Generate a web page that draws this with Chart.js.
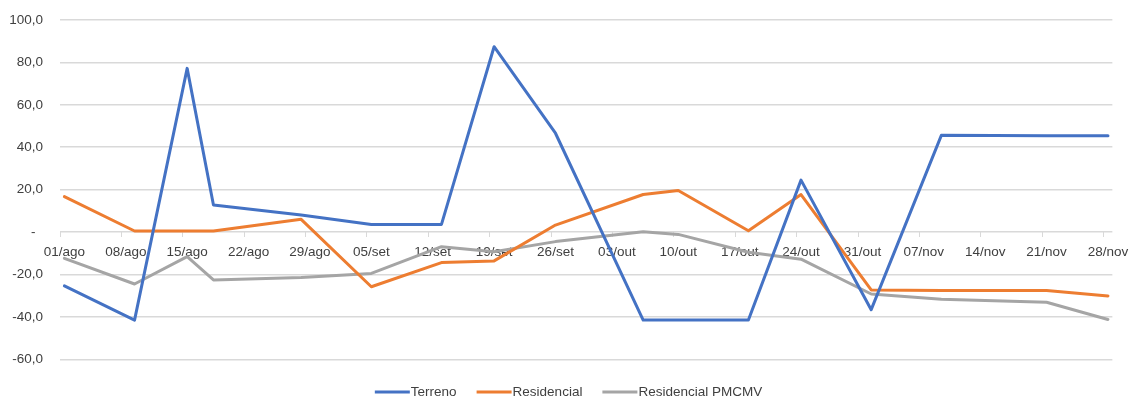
<!DOCTYPE html>
<html lang="pt-BR">
<head>
<meta charset="utf-8">
<title>Variação semanal – Terreno, Residencial e Residencial PMCMV</title>
<script src="https://cdn.jsdelivr.net/npm/chart.js@4.4.1/dist/chart.umd.min.js"></script>
<style>
  html, body { margin: 0; padding: 0; background: #ffffff; }
  #wrap { width: 1131px; height: 397px; position: relative; }
</style>
</head>
<body>
<div id="wrap"><canvas id="grafico"></canvas></div>
<script>
// Datas de referência de cada observação (dia/mês abreviado)
const datas = ['01/ago', '09/ago', '15/ago', '18/ago', '28/ago', '05/set', '13/set', '19/set', '26/set',
               '06/out', '10/out', '18/out', '24/out', '01/nov', '09/nov', '21/nov', '28/nov'];

// Variação (%) por segmento
const terreno       = [-25.4, -41.5, 77.2, 12.8, 8.0, 3.6, 3.6, 87.4, 46.6, -41.5, -41.5, -41.5, 24.5, -36.6, 45.6, 45.4, 45.4];
const residencial   = [16.7, 0.5, 0.5, 0.5, 6.0, -25.8, -14.4, -13.6, 3.3, 17.7, 19.6, 0.6, 17.7, -27.3, -27.5, -27.6, -30.1];
const residPmcmv    = [-12.4, -24.5, -11.6, -22.6, -21.4, -19.5, -6.9, -9.3, -4.5, 0.2, -1.1, -9.5, -12.8, -29.2, -31.7, -33.1, -41.2];

// Rótulos semanais do eixo horizontal
const rotulosSemana = ['01/ago', '08/ago', '15/ago', '22/ago', '29/ago', '05/set', '12/set', '19/set', '26/set',
                       '03/out', '10/out', '17/out', '24/out', '31/out', '07/nov', '14/nov', '21/nov', '28/nov'];

// Rótulos do eixo vertical
const valoresEixoY = [-60, -40, -20, 0, 20, 40, 60, 80, 100];

// Dias decorridos desde 01/ago para cada "dd/mmm"
const inicioMes = { ago: 0, set: 31, out: 61, nov: 92 };
function diaDoPeriodo(rotulo) {
  const [dia, mes] = rotulo.split('/');
  return inicioMes[mes] + Number(dia) - 1;
}

const FONTE = "'Liberation Sans', Arial, sans-serif";
const TAM_FONTE = 13.5;
const COR_TEXTO = '#404040';
const COR_GRADE = '#d9d9d9';

function serie(valores) {
  return valores.map((v, i) => ({ x: diaDoPeriodo(datas[i]), y: v }));
}

function formatoNumero(v) {
  if (v === 0) return '-\u2007';
  return v.toFixed(1).replace('.', ',');
}

const estiloLinha = {
  borderWidth: 3,
  pointRadius: 0,
  pointHoverRadius: 0,
  tension: 0,
  fill: false,
  borderJoinStyle: 'round',
  borderCapStyle: 'round'
};

// Legenda horizontal centralizada no rodapé: traço da série seguido do nome
const legendaRodape = {
  id: 'legendaRodape',
  afterDraw(grafico) {
    const ctx = grafico.ctx;
    const traco = 35, folga = 1, espaco = 20, yCentro = 392;
    ctx.save();
    ctx.font = `${TAM_FONTE}px ${FONTE}`;
    ctx.textBaseline = 'middle';
    ctx.textAlign = 'left';
    const itens = grafico.data.datasets.map(ds => ({
      texto: ds.label, cor: ds.borderColor, largura: ctx.measureText(ds.label).width
    }));
    const total = itens.reduce((s, it) => s + traco + folga + it.largura, 0) + espaco * (itens.length - 1);
    let x = grafico.width / 2 + 3 - total / 2;
    itens.forEach(it => {
      ctx.strokeStyle = it.cor;
      ctx.lineWidth = 3;
      ctx.lineCap = 'butt';
      ctx.beginPath();
      ctx.moveTo(x, yCentro);
      ctx.lineTo(x + traco, yCentro);
      ctx.stroke();
      x += traco + folga;
      ctx.fillStyle = COR_TEXTO;
      ctx.fillText(it.texto, x, yCentro + 0.5);
      x += it.largura + espaco;
    });
    ctx.restore();
  }
};

new Chart(document.getElementById('grafico'), {
  type: 'line',
  data: {
    datasets: [
      Object.assign({ label: 'Terreno', data: serie(terreno), borderColor: '#4472C4', backgroundColor: '#4472C4' }, estiloLinha),
      Object.assign({ label: 'Residencial', data: serie(residencial), borderColor: '#ED7D31', backgroundColor: '#ED7D31' }, estiloLinha),
      Object.assign({ label: 'Residencial PMCMV', data: serie(residPmcmv), borderColor: '#A5A5A5', backgroundColor: '#A5A5A5' }, estiloLinha)
    ]
  },
  plugins: [legendaRodape],
  options: {
    responsive: true,
    maintainAspectRatio: false,
    animation: false,
    events: [],
    layout: { padding: { left: 0, right: 18, top: 20, bottom: 37.7 } },
    scales: {
      x: {
        type: 'linear',
        position: { y: 0 },
        min: -0.5,
        max: diaDoPeriodo('28/nov') + 0.5,
        afterBuildTicks: (escala) => {
          escala.ticks = rotulosSemana.map(r => ({ value: diaDoPeriodo(r) - 0.5 }));
        },
        ticks: {
          autoSkip: false,
          maxRotation: 0,
          minRotation: 0,
          padding: 7,
          labelOffset: 4.4,
          color: COR_TEXTO,
          font: { family: FONTE, size: TAM_FONTE },
          callback: (valor, indice) => rotulosSemana[indice]
        },
        grid: {
          drawOnChartArea: false,
          drawTicks: true,
          tickLength: 5,
          color: COR_GRADE,
          tickColor: COR_GRADE
        },
        border: { display: false }
      },
      y: {
        min: valoresEixoY[0],
        max: valoresEixoY[valoresEixoY.length - 1],
        afterBuildTicks: (escala) => {
          escala.ticks = valoresEixoY.map(v => ({ value: v }));
        },
        afterFit: (escala) => { escala.width = 60; },
        ticks: {
          padding: 0,
          color: COR_TEXTO,
          font: { family: FONTE, size: TAM_FONTE },
          callback: (valor) => formatoNumero(valor)
        },
        grid: {
          drawTicks: true,
          tickLength: 17,
          tickColor: 'rgba(0,0,0,0)',
          color: COR_GRADE,
          lineWidth: 1.5
        },
        border: { display: false }
      }
    },
    plugins: {
      tooltip: { enabled: false },
      legend: { display: false }
    }
  }
});
</script>
</body>
</html>
